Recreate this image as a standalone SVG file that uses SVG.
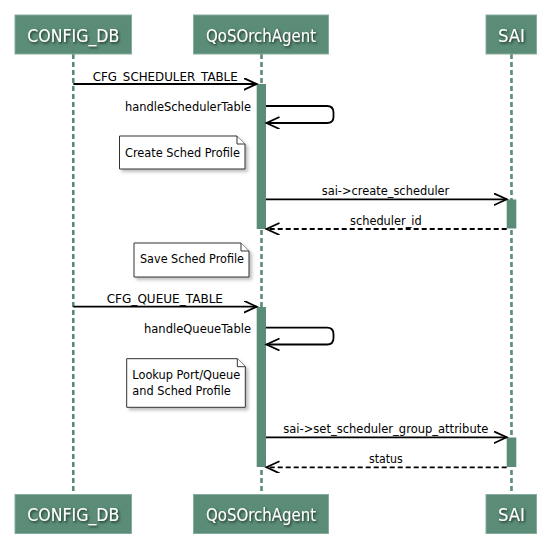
<svg xmlns="http://www.w3.org/2000/svg" width="552" height="558" viewBox="0 0 552 558">
<defs>
<filter id="ts" x="-20%" y="-40%" width="140%" height="180%">
<feDropShadow dx="1.2" dy="1.5" stdDeviation="0.8" flood-color="#16291f" flood-opacity="0.95"/>
</filter>
<filter id="ns" x="-10%" y="-10%" width="130%" height="140%">
<feDropShadow dx="2.5" dy="2.5" stdDeviation="1.5" flood-color="#000" flood-opacity="0.25"/>
</filter>
<marker id="ah" markerWidth="16" markerHeight="14" refX="13" refY="6" orient="auto" markerUnits="userSpaceOnUse">
<path d="M0,0 L13,6 L0,12" fill="none" stroke="#000" stroke-width="1.8"/>
</marker>
</defs>
<style>
.box{fill:#5b8c77;stroke:#86ad9b;stroke-width:1}
.ptxt{font-family:"DejaVu Sans",Verdana,sans-serif;font-size:17px;fill:#fff;text-anchor:middle}
.life{stroke:#5b8c77;stroke-width:2.6;stroke-dasharray:5,3;fill:none}
.act{fill:#5b8c77}
.msg{stroke:#000;stroke-width:1.8;fill:none}
.ret{stroke:#000;stroke-width:1.8;fill:none;stroke-dasharray:5,3}
.t{font-family:"DejaVu Sans",Verdana,sans-serif;font-size:12px;fill:#000}
.note{fill:#fff;stroke:#333;stroke-width:1}
</style>

<g id="lifelines">
<line class="life" x1="73.3" y1="54" x2="73.3" y2="494"/>
<line class="life" x1="261.5" y1="54" x2="261.5" y2="494"/>
<line class="life" x1="511.5" y1="54" x2="511.5" y2="494"/>
</g>

<g id="CONFIG_DB">
<rect class="box" x="15" y="15" width="116.5" height="39"/>
<text class="ptxt" x="73.3" y="41.5" textLength="92" lengthAdjust="spacingAndGlyphs" filter="url(#ts)">CONFIG_DB</text>
<rect class="box" x="15" y="494.5" width="116.5" height="39"/>
<text class="ptxt" x="73.3" y="520.5" textLength="92" lengthAdjust="spacingAndGlyphs" filter="url(#ts)">CONFIG_DB</text>
</g>
<g id="QoSOrchAgent">
<rect class="box" x="193.5" y="15" width="135" height="39"/>
<text class="ptxt" x="261" y="41.5" textLength="110" lengthAdjust="spacingAndGlyphs" filter="url(#ts)">QoSOrchAgent</text>
<rect class="box" x="193.5" y="494.5" width="135" height="39"/>
<text class="ptxt" x="261" y="520.5" textLength="110" lengthAdjust="spacingAndGlyphs" filter="url(#ts)">QoSOrchAgent</text>
</g>
<g id="SAI">
<rect class="box" x="486" y="15" width="50.5" height="39"/>
<text class="ptxt" x="511.5" y="41.5" textLength="27" lengthAdjust="spacingAndGlyphs" filter="url(#ts)">SAI</text>
<rect class="box" x="486" y="494.5" width="50.5" height="39"/>
<text class="ptxt" x="511.5" y="520.5" textLength="27" lengthAdjust="spacingAndGlyphs" filter="url(#ts)">SAI</text>
</g>

<g id="activations">
<rect class="act" x="256.7" y="84" width="9.3" height="145"/>
<rect class="act" x="506.7" y="199.5" width="9.6" height="29"/>
<rect class="act" x="256.7" y="307" width="9.3" height="160"/>
<rect class="act" x="506.7" y="437.5" width="9.6" height="29.5"/>
</g>

<g id="notes">
<g id="note-create">
<path class="note" filter="url(#ns)" d="M119.5,136 H237 L245,144 V169 H119.5 Z"/>
<path class="note" d="M237,136 V144 H245"/>
<text class="t" x="125" y="157" textLength="115" lengthAdjust="spacingAndGlyphs">Create Sched Profile</text>
</g>
<g id="note-save">
<path class="note" filter="url(#ns)" d="M134,243 H241 L249,251 V277 H134 Z"/>
<path class="note" d="M241,243 V251 H249"/>
<text class="t" x="140" y="263" textLength="104" lengthAdjust="spacingAndGlyphs">Save Sched Profile</text>
</g>
<g id="note-lookup">
<path class="note" filter="url(#ns)" d="M126.7,358.7 H237.3 L245.3,366.7 V407.3 H126.7 Z"/>
<path class="note" d="M237.3,358.7 V366.7 H245.3"/>
<text class="t" x="132.3" y="379" textLength="108" lengthAdjust="spacingAndGlyphs">Lookup Port/Queue</text>
<text class="t" x="132.3" y="394.5" textLength="98.5" lengthAdjust="spacingAndGlyphs">and Sched Profile</text>
</g>
</g>

<g id="connectors">
<line class="msg" x1="73.3" y1="84" x2="256.7" y2="84" marker-end="url(#ah)"/>
<text class="t" x="92.7" y="81" textLength="145" lengthAdjust="spacingAndGlyphs">CFG_SCHEDULER_TABLE</text>

<path class="msg" d="M266,106 H327 Q333.5,106 333.5,112.5 V117 Q333.5,123 327,123 H266.5" marker-end="url(#ah)"/>
<text class="t" x="125" y="110.7" textLength="126" lengthAdjust="spacingAndGlyphs">handleSchedulerTable</text>

<line class="msg" x1="266" y1="199.3" x2="506.7" y2="199.3" marker-end="url(#ah)"/>
<text class="t" x="321.7" y="195" textLength="127.6" lengthAdjust="spacingAndGlyphs">sai-&gt;create_scheduler</text>

<line class="ret" x1="506.7" y1="229" x2="266.5" y2="229" marker-end="url(#ah)"/>
<text class="t" x="350" y="225" textLength="71.7" lengthAdjust="spacingAndGlyphs">scheduler_id</text>

<line class="msg" x1="73.3" y1="306.7" x2="256.7" y2="306.7" marker-end="url(#ah)"/>
<text class="t" x="106.7" y="302.5" textLength="116.3" lengthAdjust="spacingAndGlyphs">CFG_QUEUE_TABLE</text>

<path class="msg" d="M266,327.7 H327 Q333.5,327.7 333.5,334.2 V338 Q333.5,344.5 327,344.5 H266.5" marker-end="url(#ah)"/>
<text class="t" x="144" y="332.7" textLength="107" lengthAdjust="spacingAndGlyphs">handleQueueTable</text>

<line class="msg" x1="266" y1="437.3" x2="506.7" y2="437.3" marker-end="url(#ah)"/>
<text class="t" x="283.3" y="432.5" textLength="205" lengthAdjust="spacingAndGlyphs">sai-&gt;set_scheduler_group_attribute</text>

<line class="ret" x1="506.7" y1="467.3" x2="266.5" y2="467.3" marker-end="url(#ah)"/>
<text class="t" x="369" y="462.5" textLength="33.7" lengthAdjust="spacingAndGlyphs">status</text>
</g>
</svg>
